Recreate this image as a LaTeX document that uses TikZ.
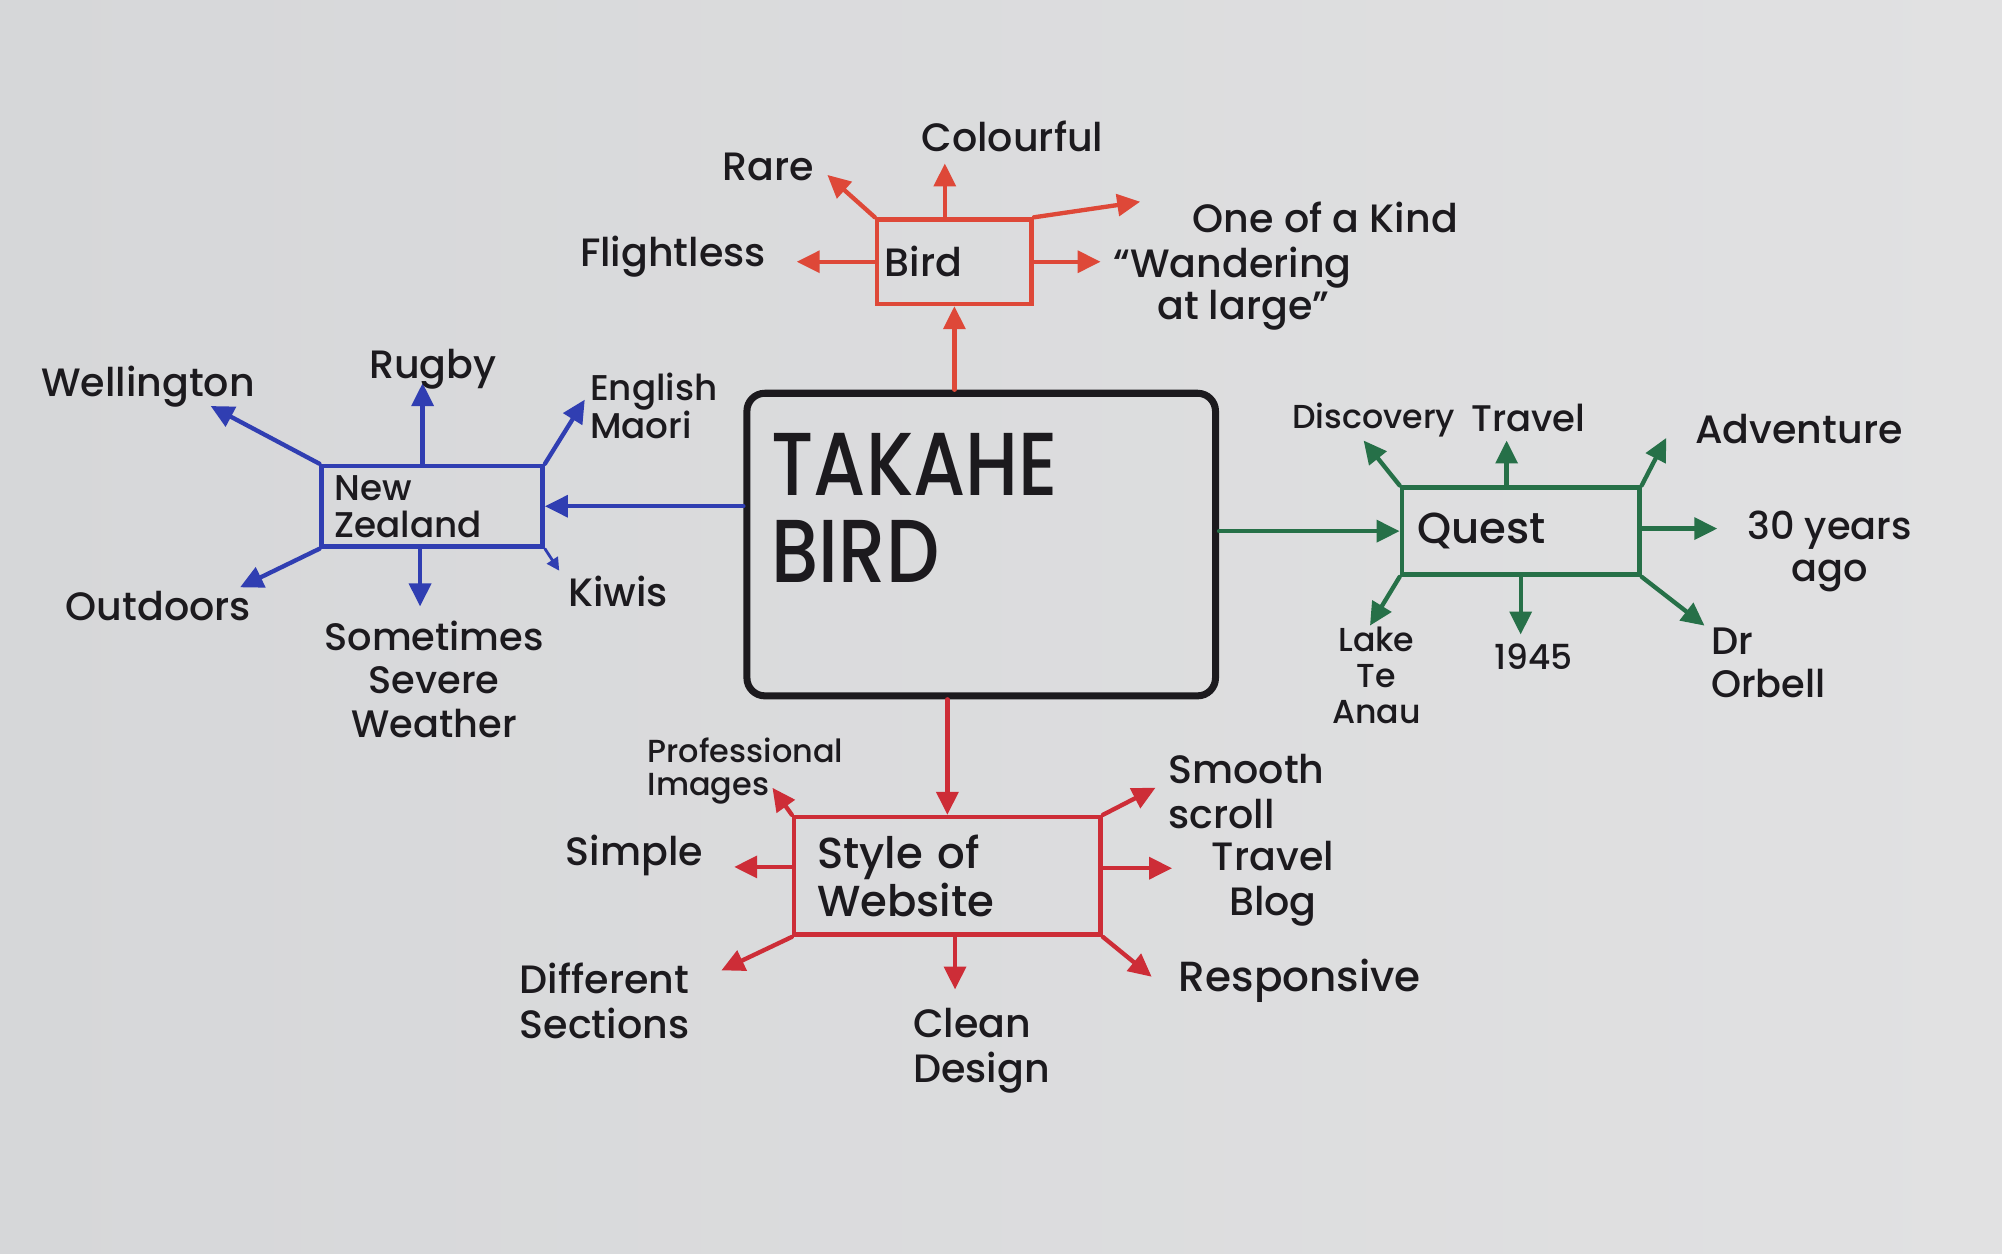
\documentclass[tikz,border=0pt]{standalone}
\usepackage{fontspec}
\IfFontExistsTF{Poppins Medium}{\setmainfont{Poppins Medium}}{\setmainfont{Poppins}}
\usetikzlibrary{arrows.meta}
\definecolor{paperL}{RGB}{214,215,217}
\definecolor{paperM}{RGB}{233,233,233}
\definecolor{paperR}{RGB}{225,225,226}
\definecolor{ink}{RGB}{28,26,30}
\definecolor{birdred}{RGB}{222,72,56}
\definecolor{webred}{RGB}{205,45,55}
\definecolor{nzblue}{RGB}{48,62,178}
\definecolor{qgreen}{RGB}{38,112,72}
\begin{document}
\begin{tikzpicture}[x=1pt,y=-1pt,
  lbl/.style={text=ink, inner sep=0pt, align=center, font=\fontsize{31}{35}\selectfont},
  smalllbl/.style={lbl, font=\fontsize{25}{26}\selectfont},
  topic/.style={draw=#1, line width=3.6pt, text=ink, inner ysep=4pt, inner xsep=0pt, align=left},
  branch/.style={line width=3.4pt, line cap=round, -{Triangle[length=18pt,width=17pt]}},
  thinbranch/.style={line width=2.2pt, line cap=round, -{Triangle[length=10pt,width=10pt]}}]

% sheet of paper
\useasboundingbox (0,0) rectangle (1568,982);
\shade[left color=paperL, middle color=paperM, right color=paperR] (0,0) rectangle (1568,982);

% central topic
\node[draw=ink, line width=5.5pt, rounded corners=14pt, minimum width=367pt, minimum height=237pt, inner sep=0pt] (main) at (768.5,426.5) {};
\node[anchor=west, align=left, inner sep=0pt, text=ink, font=\fontsize{70}{68}\selectfont] (title) at (604,398)
  {\scalebox{0.84}[1]{TAKAHE}\\\scalebox{0.84}[1]{BIRD}};

% sub-topic boxes
\node[topic=birdred, minimum width=121pt, minimum height=66pt, text width=109pt, font=\fontsize{31}{33}\selectfont] (bird) at (747.5,205) {Bird};
\node[topic=nzblue, minimum width=173pt, minimum height=63pt, text width=153pt, font=\fontsize{28}{29}\selectfont] (nz) at (338.5,396.5) {New\\Zealand};
\node[topic=qgreen, minimum width=186pt, minimum height=68pt, text width=162pt, font=\fontsize{34}{36}\selectfont] (quest) at (1191,416) {Quest};
\node[topic=webred, minimum width=240pt, minimum height=92pt, text width=204pt, font=\fontsize{34}{38}\selectfont] (web) at (742,686) {Style of\\Website};

% trunks from the central topic
\draw[branch, birdred] (main.north -| bird.south) -- (bird.south);
\draw[branch, nzblue] (main.west |- nz.east) -- (nz.east);
\draw[branch, qgreen] (main.east |- quest.west) -- (quest.west);
\draw[branch, webred] (main.south -| web.north) -- (web.north);

% --- Bird ---
\coordinate (t-rare) at (648,137);
\coordinate (t-col) at (740,128);
\coordinate (t-kind) at (893,158);
\coordinate (t-flight) at (624,205);
\coordinate (t-wander) at (862,205);
\draw[branch, birdred] (bird.north west) -- (t-rare);
\draw[branch, birdred] (bird.north -| t-col) -- (t-col);
\draw[branch, birdred] (bird.north east) -- (t-kind);
\draw[branch, birdred] (bird.west |- t-flight) -- (t-flight);
\draw[branch, birdred] (bird.east |- t-wander) -- (t-wander);
\node[lbl] (rare) at (602,131) {Rare};
\node[lbl] (colourful) at (793,107) {Colourful};
\node[lbl] (kind) at (1038,170) {One of a Kind};
\node[lbl] (flightless) at (527,201) {Flightless};
\node[lbl, anchor=west, align=left, font=\fontsize{31}{33}\selectfont] (wander) at (872,226) {“Wandering\\\hspace*{1.1em}at large”};

% --- New Zealand ---
\coordinate (t-well) at (165,318);
\coordinate (t-rugby) at (331,300);
\coordinate (t-eng) at (458,313);
\coordinate (t-out) at (188,460);
\coordinate (t-weather) at (329,475);
\coordinate (t-kiwi) at (438,447);
\draw[branch, nzblue] (nz.north west) -- (t-well);
\draw[branch, nzblue] (nz.north -| t-rugby) -- (t-rugby);
\draw[branch, nzblue] (nz.north east) -- (t-eng);
\draw[branch, nzblue] (nz.south west) -- (t-out);
\draw[branch, nzblue] (nz.south -| t-weather) -- (t-weather);
\draw[thinbranch, nzblue] (nz.south east) -- (t-kiwi);
\node[lbl] (wellington) at (116,303) {Wellington};
\node[lbl] (rugby) at (339,289) {Rugby};
\node[lbl, anchor=west, align=left, font=\fontsize{28}{29}\selectfont] (english) at (462,318) {English\\Maori};
\node[lbl] (outdoors) at (124,475) {Outdoors};
\node[lbl, font=\fontsize{30}{34}\selectfont] (weather) at (340,532) {Sometimes\\Severe\\Weather};
\node[lbl] (kiwis) at (484,463) {Kiwis};

% --- Quest ---
\coordinate (t-disc) at (1068,345);
\coordinate (t-travel) at (1180,345);
\coordinate (t-adv) at (1305,343);
\coordinate (t-years) at (1345,414);
\coordinate (t-lake) at (1073,490);
\coordinate (t-1945) at (1191,497);
\coordinate (t-orbell) at (1335,490);
\draw[branch, qgreen] (quest.north west) -- (t-disc);
\draw[branch, qgreen] (quest.north -| t-travel) -- (t-travel);
\draw[branch, qgreen] (quest.north east) -- (t-adv);
\draw[branch, qgreen] (quest.east |- t-years) -- (t-years);
\draw[branch, qgreen] (quest.south west) -- (t-lake);
\draw[branch, qgreen] (quest.south -| t-1945) -- (t-1945);
\draw[branch, qgreen] (quest.south east) -- (t-orbell);
\node[lbl, font=\fontsize{26}{28}\selectfont] (discovery) at (1076,329) {Discovery};
\node[lbl, font=\fontsize{29}{31}\selectfont] (travel) at (1197,327) {Travel};
\node[lbl] (adventure) at (1409,336) {Adventure};
\node[lbl, font=\fontsize{30}{33}\selectfont] (years) at (1433,432) {30 years\\ago};
\node[lbl, font=\fontsize{26}{28}\selectfont] (lake) at (1078,529) {Lake\\Te\\Anau};
\node[lbl, font=\fontsize{27}{28}\selectfont] (y1945) at (1201,514) {1945};
\node[lbl, anchor=west, align=left, font=\fontsize{30}{34}\selectfont] (orbell) at (1340,519) {Dr\\Orbell};

% --- Style of Website ---
\coordinate (t-prof) at (605,617);
\coordinate (t-smooth) at (905,617);
\coordinate (t-simple) at (575,679);
\coordinate (t-blog) at (918,680);
\coordinate (t-diff) at (565,760);
\coordinate (t-clean) at (748,775);
\coordinate (t-resp) at (902,765);
\draw[branch, webred] (web.north west) -- (t-prof);
\draw[branch, webred] (web.north east) -- (t-smooth);
\draw[branch, webred] (web.west |- t-simple) -- (t-simple);
\draw[branch, webred] (web.east |- t-blog) -- (t-blog);
\draw[branch, webred] (web.south west) -- (t-diff);
\draw[branch, webred] (web.south -| t-clean) -- (t-clean);
\draw[branch, webred] (web.south east) -- (t-resp);
\node[smalllbl, anchor=west, align=left] (prof) at (507,604) {Professional\\Images};
\node[lbl, anchor=west, align=left] (smooth) at (915,620) {Smooth\\scroll};
\node[lbl] (simple) at (497,670) {Simple};
\node[lbl] (blog) at (997,692) {Travel\\Blog};
\node[lbl, anchor=west, align=left] (diff) at (407,784) {Different\\Sections};
\node[lbl, anchor=west, align=left] (clean) at (715,823) {Clean\\Design};
\node[lbl, font=\fontsize{33}{35}\selectfont] (resp) at (1018,768) {Responsive};

\end{tikzpicture}
\end{document}
